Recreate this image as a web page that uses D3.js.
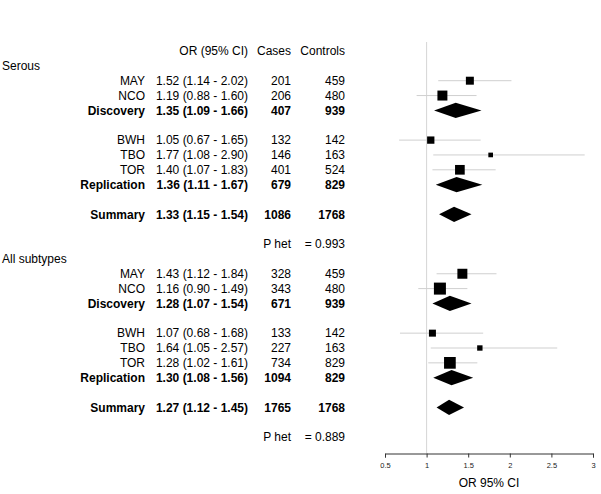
<!DOCTYPE html>
<html>
<head>
<meta charset="utf-8">
<script src="https://cdn.jsdelivr.net/npm/d3@7"></script>
<style>
  html, body { margin: 0; padding: 0; background: #fff; }
  svg { display: block; font-family: "Liberation Sans", Arial, Helvetica, sans-serif; }
</style>
</head>
<body>
<svg id="chart" width="601" height="494"></svg>
<script>
// ---------- DATA ----------
const groupTitles = ["Serous", "All subtypes"];
const rowLabels = ["MAY", "NCO", "Discovery", "BWH", "TBO", "TOR", "Replication", "Summary"];
const rowKinds  = ["study", "study", "pooled", "study", "study", "study", "pooled", "summary"];

const serousOR       = [1.52, 1.19, 1.35, 1.05, 1.77, 1.40, 1.36, 1.33];
const serousLower    = [1.14, 0.88, 1.09, 0.67, 1.08, 1.07, 1.11, 1.15];
const serousUpper    = [2.02, 1.60, 1.66, 1.65, 2.90, 1.83, 1.67, 1.54];
const serousCases    = [201, 206, 407, 132, 146, 401, 679, 1086];
const serousControls = [459, 480, 939, 142, 163, 524, 829, 1768];
const serousWeight   = [0.44, 0.69, null, 0.37, 0.15, 0.65, null, null];
const serousPhet     = "0.993";

const allOR       = [1.43, 1.16, 1.28, 1.07, 1.64, 1.28, 1.30, 1.27];
const allLower    = [1.12, 0.90, 1.07, 0.68, 1.05, 1.02, 1.08, 1.12];
const allUpper    = [1.84, 1.49, 1.54, 1.68, 2.57, 1.61, 1.56, 1.45];
const allCases    = [328, 343, 671, 133, 227, 734, 1094, 1765];
const allControls = [459, 480, 939, 142, 163, 829, 829, 1768];
const allWeight   = [0.69, 1.00, null, 0.34, 0.20, 0.95, null, null];
const allPhet     = "0.889";

const headerLabels = ["OR (95% CI)", "Cases", "Controls"];
const axisTicks = [0.5, 1, 1.5, 2, 2.5, 3];
const axisTitle = "OR 95% CI";
const refValue = 1;

// ---------- LAYOUT ----------
const svg = d3.select("#chart");
const FS = 12;
const rowSlots = [1, 2, 3, 5, 6, 7, 8, 10]; // slot of each row inside a group
const phetSlot = 12;
const groupSpan = 13;

const y = d3.scaleLinear().domain([0, 26]).range([51, 51 + 26 * 14.85]);
const x = d3.scaleLinear().domain([0.5, 3]).range([385, 593]);
const boxSide = d3.scaleSqrt().domain([0, 1]).range([0, 12]);

const colLabel = 145, colOR = 248, colCases = 291, colControls = 345;
const fmt2 = d3.format(".2f");

const groups = [
  { title: groupTitles[0], or: serousOR, lo: serousLower, hi: serousUpper, cases: serousCases, controls: serousControls, w: serousWeight, phet: serousPhet },
  { title: groupTitles[1], or: allOR, lo: allLower, hi: allUpper, cases: allCases, controls: allControls, w: allWeight, phet: allPhet }
];

function txt(xp, row, s, anchor, bold) {
  svg.append("text")
    .attr("x", xp).attr("y", y(row)).attr("dy", "0.35em")
    .attr("text-anchor", anchor)
    .attr("font-size", FS)
    .attr("font-weight", bold ? "bold" : "normal")
    .attr("fill", "#000")
    .text(s);
}

// reference line
svg.append("line")
  .attr("x1", x(refValue)).attr("x2", x(refValue))
  .attr("y1", 42).attr("y2", 453)
  .attr("stroke", "#d6d6d6").attr("stroke-width", 1);

// header
txt(colOR, 0, headerLabels[0], "end", false);
txt(colCases, 0, headerLabels[1], "end", false);
txt(colControls, 0, headerLabels[2], "end", false);

groups.forEach((g, gi) => {
  const base = 1 + gi * groupSpan;
  txt(2, base, g.title, "start", false);
  rowLabels.forEach((lab, i) => {
    const r = base + rowSlots[i];
    const bold = rowKinds[i] !== "study";
    txt(colLabel, r, lab, "end", bold);
    txt(colOR, r, `${fmt2(g.or[i])} (${fmt2(g.lo[i])} - ${fmt2(g.hi[i])})`, "end", bold);
    txt(colCases, r, g.cases[i], "end", bold);
    txt(colControls, r, g.controls[i], "end", bold);

    const cy = y(r);
    if (rowKinds[i] === "study") {
      svg.append("line")
        .attr("x1", x(g.lo[i])).attr("x2", x(g.hi[i]))
        .attr("y1", cy).attr("y2", cy)
        .attr("stroke", "#cfcfcf").attr("stroke-width", 1);
      const s = boxSide(g.w[i]);
      svg.append("rect")
        .attr("x", x(g.or[i]) - s / 2).attr("y", cy - s / 2)
        .attr("width", s).attr("height", s)
        .attr("fill", "#000");
    } else {
      const h = 7.6;
      const pts = [[x(g.lo[i]), cy], [x(g.or[i]), cy - h], [x(g.hi[i]), cy], [x(g.or[i]), cy + h]];
      svg.append("path")
        .attr("d", d3.line()(pts) + "Z")
        .attr("fill", "#000");
    }
  });
  const pr = base + phetSlot;
  txt(colCases, pr, "P het", "end", false);
  txt(colControls, pr, "= " + g.phet, "end", false);
});

// axis
const axis = d3.axisBottom(x).tickValues(axisTicks).tickSize(4).tickPadding(5)
  .tickFormat(d => String(d));
const ag = svg.append("g").attr("transform", "translate(0,453.5)").call(axis);
ag.select(".domain").attr("stroke", "#333");
ag.selectAll(".tick line").attr("stroke", "#333");
ag.selectAll(".tick text").attr("font-size", 7.5).attr("fill", "#222")
  .attr("font-family", "Liberation Sans, Arial, sans-serif");

svg.append("text")
  .attr("x", (x(0.5) + x(3)) / 2).attr("y", 487)
  .attr("text-anchor", "middle").attr("font-size", FS).attr("fill", "#000")
  .text(axisTitle);
</script>
</body>
</html>
